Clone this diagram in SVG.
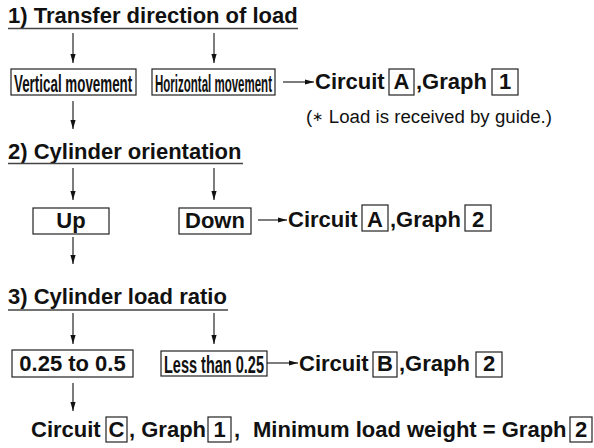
<svg xmlns="http://www.w3.org/2000/svg" width="594" height="448" viewBox="0 0 594 448">
<defs>
<marker id="ah" markerUnits="userSpaceOnUse" markerWidth="10" markerHeight="6" refX="9" refY="3" orient="auto">
<path d="M0,0.4 L9,3 L0,5.6 z" fill="#111"/>
</marker>
<style>
.t{font-family:"Liberation Sans",Arial,sans-serif;font-weight:bold;font-size:22px;fill:#111}
.n{font-family:"Liberation Sans",Arial,sans-serif;font-size:18px;fill:#111}
.c{font-family:"Liberation Sans",Arial,sans-serif;font-weight:bold;font-size:24px;fill:#111}
.b{fill:#fff;stroke:#222;stroke-width:1.2}
.u{stroke:#444;stroke-width:1.5}
.a{stroke:#111;stroke-width:1.1;fill:none;marker-end:url(#ah)}
</style>
</defs>
<rect width="594" height="448" fill="#fff"/>
<g id="titles">
<text class="t" x="8" y="23">1) Transfer direction of load</text>
<line class="u" x1="8" y1="28.5" x2="298" y2="28.5"/>
<text class="t" x="8" y="159">2) Cylinder orientation</text>
<line class="u" x1="8" y1="163.5" x2="243" y2="163.5"/>
<text class="t" x="8" y="304">3) Cylinder load ratio</text>
<line class="u" x1="8" y1="310" x2="228" y2="310"/>
</g>
<g id="connectors">
<line class="a" x1="73" y1="33" x2="73" y2="63"/>
<line class="a" x1="214" y1="33" x2="214" y2="63"/>
<line class="a" x1="283" y1="82" x2="314" y2="82"/>
<line class="a" x1="73" y1="101" x2="73" y2="129"/>
<line class="a" x1="73" y1="168" x2="73" y2="200"/>
<line class="a" x1="214" y1="168" x2="214" y2="200"/>
<line class="a" x1="258" y1="220" x2="287" y2="220"/>
<line class="a" x1="73" y1="237" x2="73" y2="264"/>
<line class="a" x1="73" y1="313" x2="73" y2="344"/>
<line class="a" x1="214" y1="313" x2="214" y2="344"/>
<line class="a" x1="267" y1="363" x2="298" y2="363"/>
<line class="a" x1="73" y1="383" x2="73" y2="411"/>
</g>
<g id="vertical">
<rect class="b" x="11" y="69" width="125" height="26"/>
<text class="c" transform="translate(14,91.5) scale(0.5576,1)">Vertical movement</text>
</g>
<g id="horizontal">
<rect class="b" x="152" y="69" width="123" height="26"/>
<text class="c" transform="translate(155,91.5) scale(0.4795,1)">Horizontal movement</text>
</g>
<g id="result1">
<text class="t" x="315" y="89">Circuit</text>
<rect class="b" x="389" y="69" width="25" height="26"/>
<text class="t" x="401.5" y="89" text-anchor="middle">A</text>
<text class="t" x="416" y="89">,Graph</text>
<rect class="b" x="492" y="69" width="26" height="26"/>
<text class="t" x="505" y="89" text-anchor="middle">1</text>
<text class="n" x="306" y="123" textLength="246" lengthAdjust="spacingAndGlyphs">(<tspan font-size="13" dy="-2">∗</tspan><tspan dy="2"> Load is received by guide.)</tspan></text>
</g>
<g id="up">
<rect class="b" x="33" y="208" width="76" height="26"/>
<text class="t" x="71" y="228" text-anchor="middle">Up</text>
</g>
<g id="down">
<rect class="b" x="179" y="208" width="72" height="26"/>
<text class="t" x="215" y="228" text-anchor="middle">Down</text>
</g>
<g id="result2">
<text class="t" x="288" y="227">Circuit</text>
<rect class="b" x="362" y="205" width="26" height="26"/>
<text class="t" x="375" y="227" text-anchor="middle">A</text>
<text class="t" x="390" y="227">,Graph</text>
<rect class="b" x="465" y="205" width="26" height="26"/>
<text class="t" x="478" y="227" text-anchor="middle">2</text>
</g>
<g id="ratio-high">
<rect class="b" x="12" y="350" width="121" height="27"/>
<text class="t" x="72.5" y="371" text-anchor="middle">0.25 to 0.5</text>
</g>
<g id="ratio-low">
<rect class="b" x="161" y="351" width="106" height="25"/>
<text class="c" transform="translate(164,372.5) scale(0.6046,1)">Less than 0.25</text>
</g>
<g id="result3">
<text class="t" x="299" y="371">Circuit</text>
<rect class="b" x="373" y="352" width="24" height="25"/>
<text class="t" x="385" y="371" text-anchor="middle">B</text>
<text class="t" x="399" y="371">,Graph</text>
<rect class="b" x="476" y="352" width="26" height="25"/>
<text class="t" x="489" y="371" text-anchor="middle">2</text>
</g>
<g id="result4">
<text class="t" x="31" y="437">Circuit</text>
<rect class="b" x="106" y="417" width="21" height="25"/>
<text class="t" x="116.5" y="437" text-anchor="middle">C</text>
<text class="t" x="129" y="437">, Graph</text>
<rect class="b" x="208" y="417" width="23" height="25"/>
<text class="t" x="219.5" y="437" text-anchor="middle">1</text>
<text class="t" x="234" y="437">,</text>
<text class="t" x="253" y="437">Minimum load weight = Graph</text>
<rect class="b" x="570" y="417" width="22" height="25"/>
<text class="t" x="581" y="437" text-anchor="middle">2</text>
</g>
</svg>
